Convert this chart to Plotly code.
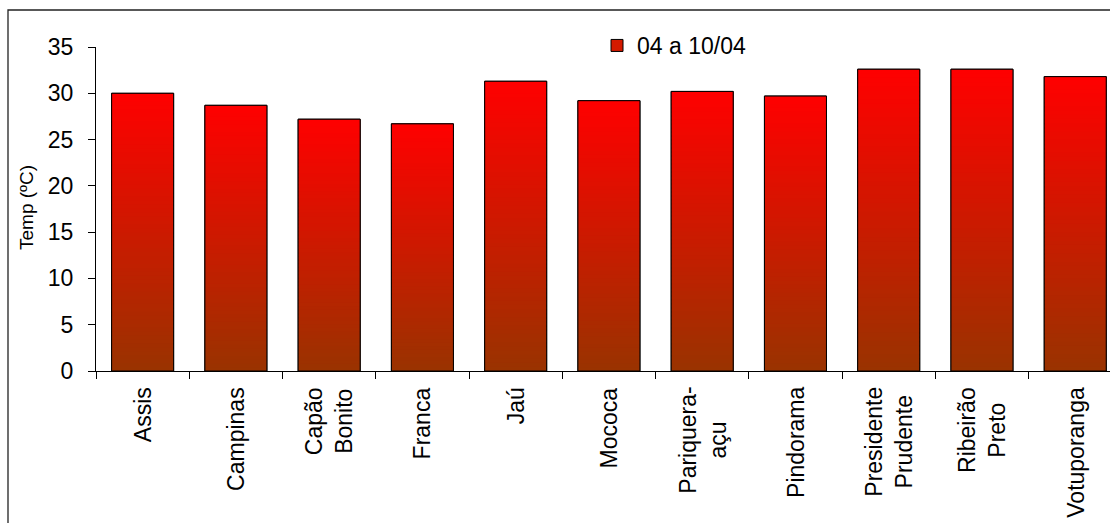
import plotly.graph_objects as go

# Mean temperatures by station, week 04 a 10/04
stations = ["Assis", "Campinas", "Capão Bonito", "Franca", "Jaú", "Mococa",
            "Pariquera-açu", "Pindorama", "Presidente Prudente",
            "Ribeirão Preto", "Votuporanga"]
station_labels = ["Assis", "Campinas", "Capão<br>Bonito", "Franca", "Jaú",
                  "Mococa", "Pariquera-<br>açu", "Pindorama",
                  "Presidente<br>Prudente", "Ribeirão<br>Preto", "Votuporanga"]
temps = [30.0, 28.7, 27.2, 26.7, 31.3, 29.2, 30.2, 29.7, 32.6, 32.6, 31.8]
series_name = "04 a 10/04"
y_ticks = [0, 5, 10, 15, 20, 25, 30, 35]

FONT = "Arial, 'Liberation Sans', sans-serif"
W, H = 1110, 523
ML, MR, MT, MB = 96, 0, 47, 152
CAT_PX = 93.26  # width of one category slot

TOP_RGB = (255, 0, 0)
BOTTOM_RGB = (153, 51, 0)
N_SLICES = 70


def blend(f):
    r = [round(b + (t - b) * f) for t, b in zip(TOP_RGB, BOTTOM_RGB)]
    return f"rgb({r[0]},{r[1]},{r[2]})"


# vertical gradient for each bar, built as thin stacked slices of the bar
sx, sbase, sh, scol = [], [], [], []
for name, v in zip(stations, temps):
    step = v / N_SLICES
    for k in range(N_SLICES):
        b = k * step
        sx.append(name)
        sbase.append(b)
        sh.append(min(step * 1.6, v - b))
        scol.append(blend((k + 0.5) / N_SLICES))

fig = go.Figure()
fig.add_trace(go.Bar(
    x=stations, y=temps, name=series_name,
    marker=dict(color="rgb(212,26,0)", line=dict(color="black", width=1)),
    hoverinfo="skip",
))
fig.add_trace(go.Bar(
    x=sx, y=sh, base=sbase, showlegend=False,
    marker=dict(color=scol, line=dict(width=0)),
    hoverinfo="skip",
))
fig.add_trace(go.Bar(
    x=stations, y=temps, showlegend=False,
    marker=dict(color="rgba(0,0,0,0)", line=dict(color="black", width=1)),
    hovertemplate="%{x}: %{y:.1f} ºC<extra></extra>",
))

plot_w = W - ML - MR
plot_h = H - MT - MB
x_hi = -0.5 + plot_w / CAT_PX

annotations = [
    dict(x=name, y=0, xref="x", yref="paper", yshift=-14,
         text=lab, textangle=-90, showarrow=False,
         xanchor="center", yanchor="top", align="center",
         font=dict(family=FONT, size=23, color="black"))
    for name, lab in zip(stations, station_labels)
]
annotations.append(dict(
    x=(26 - ML) / plot_w, y=(H - MB - 208) / plot_h,
    xref="paper", yref="paper",
    text="Temp (ºC)", textangle=-90, showarrow=False,
    xanchor="center", yanchor="middle",
    font=dict(family=FONT, size=19, color="black"),
))

fig.update_layout(
    width=W, height=H,
    margin=dict(l=ML, r=MR, t=MT, b=MB),
    paper_bgcolor="white", plot_bgcolor="white",
    barmode="overlay", bargap=0.335,
    font=dict(family=FONT, size=23, color="black"),
    showlegend=True,
    legend=dict(x=(597 - ML) / plot_w, y=(H - MB - 24) / plot_h,
                xanchor="left", yanchor="top",
                bgcolor="rgba(0,0,0,0)", borderwidth=0,
                font=dict(family=FONT, size=23, color="black")),
    annotations=annotations,
    shapes=[dict(type="rect", xref="paper", yref="paper",
                 x0=(8 - ML) / plot_w, x1=1.2,
                 y0=-1.0, y1=(H - MB - 10) / plot_h,
                 line=dict(color="#222", width=1.3), layer="below")],
)
fig.update_xaxes(
    type="category", range=[-0.5, x_hi],
    showticklabels=False, tickson="boundaries",
    ticks="outside", ticklen=7, tickcolor="black", tickwidth=1,
    showline=True, linecolor="black", linewidth=1,
    showgrid=False, zeroline=False,
)
fig.update_yaxes(
    range=[0, 35], tickmode="array", tickvals=y_ticks,
    ticks="outside", ticklen=7, tickcolor="black", tickwidth=1,
    ticklabelstandoff=10,
    showline=True, linecolor="black", linewidth=1,
    showgrid=False, zeroline=False,
    tickfont=dict(family=FONT, size=23, color="black"),
)

fig.write_html("out.html")
